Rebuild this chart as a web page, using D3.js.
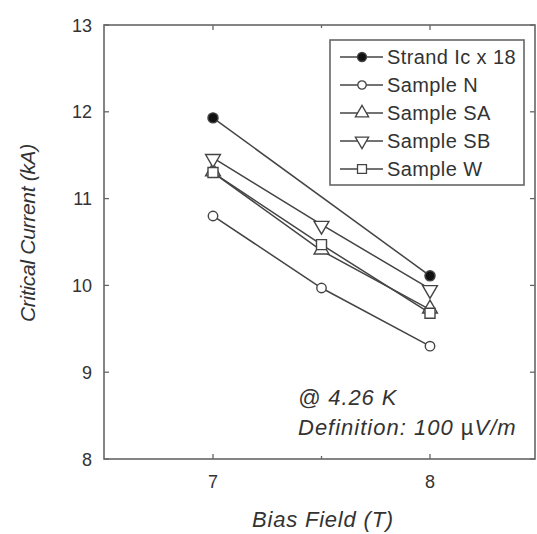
<!DOCTYPE html>
<html>
<head>
<meta charset="utf-8">
<script src="https://cdn.jsdelivr.net/npm/d3@7"></script>
<style>
  body { margin: 0; background: #fff; }
  text { font-family: "Liberation Sans", Arial, sans-serif; fill: #333; }
</style>
</head>
<body>
<div id="chart"></div>
<script>
// values
const fields = [7, 7.5, 8];
const seriesNames = ["Strand Ic x 18", "Sample N", "Sample SA", "Sample SB", "Sample W"];
const strandIc = [11.93, null, 10.11];
const sampleN = [10.80, 9.97, 9.30];
const sampleSA = [11.30, 10.40, 9.72];
const sampleSB = [11.47, 10.70, 9.96];
const sampleW = [11.30, 10.47, 9.68];
const yTicks = [8, 9, 10, 11, 12, 13];
const xMajorTicks = [7, 8];
const xMinorTicks = [7.5];

const W = 537, H = 534;
const box = {left: 104, right: 535, top: 25, bottom: 459};

const svg = d3.select('#chart').append('svg')
    .attr('width', W)
    .attr('height', H);

// scales (7 -> 213px, 8 -> 430px)
const x = d3.scaleLinear().domain([7, 8]).range([213, 430]);
const y = d3.scaleLinear().domain([8, 13]).range([box.bottom, box.top]);

const axisColor = '#666';

// frame
svg.append('rect')
    .attr('x', box.left).attr('y', box.top)
    .attr('width', box.right - box.left).attr('height', box.bottom - box.top)
    .attr('fill', 'none').attr('stroke', axisColor).attr('stroke-width', 1.6);

// left / right ticks
yTicks.forEach(v => {
    svg.append('line').attr('x1', box.left).attr('x2', box.left + 5)
        .attr('y1', y(v)).attr('y2', y(v)).attr('stroke', axisColor).attr('stroke-width', 1.3);
    svg.append('line').attr('x1', box.right).attr('x2', box.right - 5)
        .attr('y1', y(v)).attr('y2', y(v)).attr('stroke', axisColor).attr('stroke-width', 1.3);
    svg.append('text').attr('x', 92).attr('y', y(v) + 6.5)
        .attr('text-anchor', 'end').style('font-size', '18px').text(v);
});

// bottom / top ticks
xMajorTicks.forEach(v => {
    svg.append('line').attr('x1', x(v)).attr('x2', x(v))
        .attr('y1', box.bottom).attr('y2', box.bottom - 5).attr('stroke', axisColor).attr('stroke-width', 1.3);
    svg.append('line').attr('x1', x(v)).attr('x2', x(v))
        .attr('y1', box.top).attr('y2', box.top + 5).attr('stroke', axisColor).attr('stroke-width', 1.3);
    svg.append('text').attr('x', x(v)).attr('y', 488)
        .attr('text-anchor', 'middle').style('font-size', '18px').text(v);
});
xMinorTicks.forEach(v => {
    svg.append('line').attr('x1', x(v)).attr('x2', x(v))
        .attr('y1', box.bottom).attr('y2', box.bottom - 3).attr('stroke', axisColor).attr('stroke-width', 1.3);
    svg.append('line').attr('x1', x(v)).attr('x2', x(v))
        .attr('y1', box.top).attr('y2', box.top + 3).attr('stroke', axisColor).attr('stroke-width', 1.3);
});

// axis titles
svg.append('text')
    .attr('transform', `translate(35,233) rotate(-90)`)
    .attr('text-anchor', 'middle').style('font-size', '21px').style('font-style', 'italic')
    .style('letter-spacing', '-0.3px')
    .text('Critical  Current (kA)');
svg.append('text')
    .attr('x', 323).attr('y', 527)
    .attr('text-anchor', 'middle').style('font-size', '22px').style('font-style', 'italic')
    .style('letter-spacing', '0.8px')
    .text('Bias Field (T)');

// series
const series = [
    {name: seriesNames[0], values: strandIc, sym: d3.symbolCircle, fill: '#111', rot: 0, size: 80},
    {name: seriesNames[1], values: sampleN, sym: d3.symbolCircle, fill: '#fff', rot: 0, size: 70},
    {name: seriesNames[2], values: sampleSA, sym: d3.symbolTriangle, fill: '#fff', rot: 0, size: 95},
    {name: seriesNames[3], values: sampleSB, sym: d3.symbolTriangle, fill: '#fff', rot: 180, size: 95},
    {name: seriesNames[4], values: sampleW, sym: d3.symbolSquare, fill: '#fff', rot: 0, size: 100}
];

const lineFn = d3.line()
    .x(d => x(d.f))
    .y(d => y(d.v));

const lineColor = '#444';

series.forEach(s => {
    const pts = fields.map((f, i) => ({f: f, v: s.values[i]})).filter(d => d.v != null);
    svg.append('path')
        .datum(pts)
        .attr('d', lineFn)
        .attr('fill', 'none').attr('stroke', lineColor).attr('stroke-width', 1.5);
});

series.forEach(s => {
    const pts = fields.map((f, i) => ({f: f, v: s.values[i]})).filter(d => d.v != null);
    svg.selectAll(null)
        .data(pts)
        .enter().append('path')
        .attr('d', d3.symbol().type(s.sym).size(s.size))
        .attr('transform', d => `translate(${x(d.f)},${y(d.v) + (s.sym === d3.symbolTriangle ? (s.rot ? 1 : -1) : 0)}) rotate(${s.rot})`)
        .attr('fill', s.fill).attr('stroke', lineColor).attr('stroke-width', 1.4);
});

// legend
const lg = svg.append('g');
lg.append('rect')
    .attr('x', 330).attr('y', 40).attr('width', 194).attr('height', 145)
    .attr('fill', '#fff').attr('stroke', axisColor).attr('stroke-width', 1.6);
series.forEach((s, i) => {
    const ly = 57 + i * 28;
    lg.append('line').attr('x1', 340).attr('x2', 383).attr('y1', ly).attr('y2', ly)
        .attr('stroke', lineColor).attr('stroke-width', 1.4);
    lg.append('path')
        .attr('d', d3.symbol().type(s.sym).size(s.size * 0.8))
        .attr('transform', `translate(362,${ly}) rotate(${s.rot})`)
        .attr('fill', s.fill).attr('stroke', lineColor).attr('stroke-width', 1.3);
    lg.append('text').attr('x', 387).attr('y', ly + 7)
        .style('font-size', '20px').style('letter-spacing', '0.4px').text(s.name);
});

// annotation
svg.append('text').attr('x', 298).attr('y', 405)
    .style('font-size', '22px').style('font-style', 'italic').style('letter-spacing', '0.9px')
    .text('@ 4.26 K');
const def = svg.append('text').attr('x', 298).attr('y', 435)
    .style('font-size', '22px').style('font-style', 'italic').style('letter-spacing', '1px');
def.append('tspan').text('Definition: 100 ');
def.append('tspan').style('font-style', 'normal').text('µ');
def.append('tspan').text('V/m');
</script>
</body>
</html>
